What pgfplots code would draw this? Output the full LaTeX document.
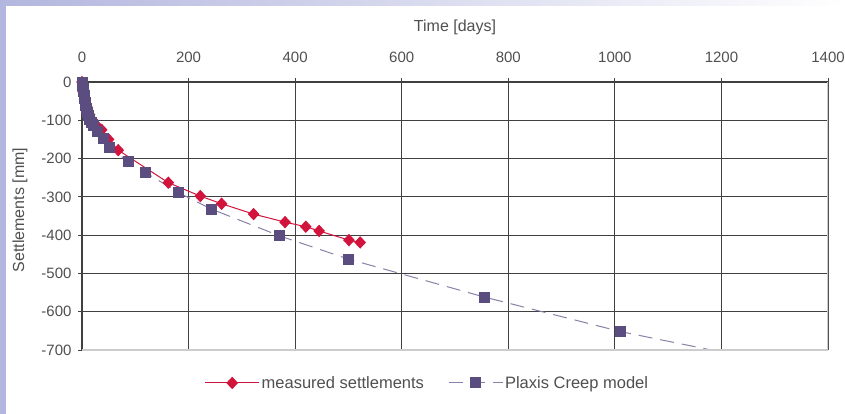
\documentclass[border=0pt]{standalone}
\usepackage{pgfplots}
\pgfplotsset{compat=1.18}
\usepackage{fontspec}
\setmainfont{Liberation Sans}
\definecolor{lav}{HTML}{B3B6DE}
\definecolor{mred}{HTML}{D2143C}
\definecolor{mpur}{HTML}{5B4D80}
\definecolor{mpurl}{HTML}{8A80A8}
\definecolor{txt}{HTML}{505050}
\begin{document}
\begin{tikzpicture}
\useasboundingbox (0,0) rectangle (845pt,-414pt);
\fill[white] (0,0) rectangle (845pt,-414pt);
\shade[left color=lav, right color=white] (0,0) rectangle (845pt,-6pt);
\fill[lav] (0,0) rectangle (6pt,-414pt);
\begin{axis}[
  at={(82pt,-350pt)}, anchor=south west,
  scale only axis, width=746pt, height=268pt,
  xmin=0, xmax=1400, ymin=-700, ymax=0,
  xtick={0,200,...,1400}, ytick={-700,-600,...,0},
  xtick pos=right, xticklabel pos=right, ytick pos=left,
  tick align=outside, major tick length=4pt,
  tick style={black!75, line width=0.8pt},
  grid=major, major grid style={black!75, line width=1.2pt},
  axis line style={draw=none},
  font=\fontsize{16}{18}\selectfont,
  /pgf/number format/assume math mode=true,
  /pgf/number format/1000 sep={},
  ticklabel style={text=txt, font=\fontsize{15}{17}\selectfont},
  xticklabel style={yshift=12pt},
  yticklabel style={xshift=-3pt},
  every axis x label/.style={at={(rel axis cs:0.5,1)}, anchor=center, yshift=55pt, text=txt},
  every axis y label/.style={at={(rel axis cs:0,0.5)}, anchor=center, rotate=90, yshift=62pt, xshift=6pt, text=txt},
  xlabel={Time [days]}, ylabel={Settlements [mm]},
  legend columns=2,
  legend style={at={(0.463,-0.123)}, anchor=center, draw=none, fill=none, text=txt,
    font=\fontsize{16.5}{18}\selectfont,
    /tikz/every even column/.append style={column sep=22pt}},
  legend image code/.code={\draw[mark repeat=2,mark phase=2] plot coordinates {(0pt,0pt) (27pt,0pt) (54pt,0pt)};},
]
\addplot[mred, line width=1pt, mark=diamond*, mark size=5.5pt, mark options={solid, fill=mred, draw=mred, xscale=1.25}]
coordinates {(0,0)(2,-25)(5,-45)(9,-65)(14,-85)(20,-100)(27,-113)(37,-125)(50,-150)(68,-178)(162,-263)(222,-298)(262,-318)(322,-345)(381,-366)(420,-378)(445,-389)(501,-413)(522,-419)};
\addlegendentry{measured settlements}
\addplot[mpurl, line width=1pt, dash pattern=on 14pt off 8pt, mark=square*, mark size=5pt, mark options={solid, fill=mpur, draw=mpur}]
coordinates {(0,0)(1,-8)(2,-17)(3,-26)(4,-35)(5,-44)(6,-53)(7,-62)(8,-70)(10,-79)(12,-88)(15,-97)(18,-105)(22,-114)(30,-130)(40,-147)(52,-172)(87,-208)(120,-237)(181,-289)(243,-332)(371,-402)(501,-463)(756,-562)(1011,-652)(1400,-762)};
\addlegendentry{Plaxis Creep model}
\draw[black!20, line width=1.2pt] (rel axis cs:0,0) -- (rel axis cs:1,0) -- (rel axis cs:1,1);
\end{axis}
\end{tikzpicture}
\end{document}
